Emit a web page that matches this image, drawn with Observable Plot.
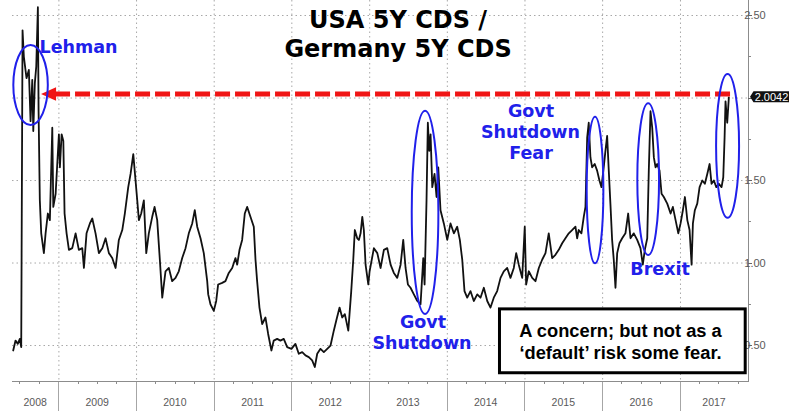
<!DOCTYPE html>
<html>
<head>
<meta charset="utf-8">
<script src="https://cdn.jsdelivr.net/npm/d3@7"></script>
<script src="https://cdn.jsdelivr.net/npm/@observablehq/plot@0.6"></script>
<style>
  html, body { margin: 0; padding: 0; background: #fff; }
  #chart svg { display: block; }
</style>
</head>
<body>
<div id="chart"></div>
<script>
// ---- data: USA 5Y CDS / Germany 5Y CDS ratio (dates as decimal years) ----
const dates = [
  2008.413,2008.443,2008.472,2008.498,2008.516, 2008.533,2008.550,2008.584,2008.614,2008.636, 2008.658,2008.671,2008.691,2008.709,2008.730, 2008.739,2008.755,2008.773,2008.807,2008.829, 2008.858,2008.884,2008.915,2008.928,2008.958,
  2009.000,2009.013,2009.035,2009.057,2009.073, 2009.099,2009.129,2009.172,2009.215,2009.257, 2009.301,2009.322,2009.356,2009.399,2009.430, 2009.472,2009.515,2009.559,2009.601,2009.644, 2009.687,2009.730,2009.772,2009.816,2009.849, 2009.893,2009.923,2009.958,2009.987,
  2010.009,2010.030,2010.060,2010.094,2010.125, 2010.158,2010.202,2010.232,2010.266,2010.300, 2010.331,2010.373,2010.416,2010.459,2010.502, 2010.544,2010.588,2010.631,2010.673,2010.717, 2010.750,2010.781,2010.824,2010.866,2010.910, 2010.923,2010.952,2010.995,
  2011.026,2011.051,2011.103,2011.145,2011.188, 2011.232,2011.274,2011.296,2011.326,2011.360, 2011.394,2011.425,2011.467,2011.510,2011.532, 2011.553,2011.583,2011.618,2011.660,2011.695, 2011.737,2011.767,2011.811,2011.853,2011.896, 2011.940,2011.995,
  2012.046,2012.089,2012.133,2012.175,2012.218, 2012.261,2012.295,2012.326,2012.368,2012.411, 2012.454,2012.497,2012.539,2012.570,2012.613, 2012.647,2012.681,2012.725,2012.741,2012.763, 2012.789,2012.809,2012.840,2012.861,2012.883, 2012.905,2012.925,2012.947,2012.982,2012.999,
  2013.054,2013.098,2013.140,2013.183,2013.226, 2013.269,2013.311,2013.355,2013.398,2013.432, 2013.462,2013.492,2013.526,2013.569,2013.613, 2013.655,2013.690,2013.707,2013.732,2013.749, 2013.767,2013.784,2013.806,2013.835,2013.861, 2013.883,2013.912,2013.955,2013.999,
  2014.041,2014.084,2014.127,2014.161,2014.192, 2014.221,2014.256,2014.298,2014.341,2014.385, 2014.427,2014.470,2014.514,2014.556,2014.598, 2014.642,2014.685,2014.727,2014.771,2014.813, 2014.856,2014.887,2014.920,2014.964,2014.997,
  2015.015,2015.049,2015.093,2015.135,2015.178, 2015.221,2015.264,2015.306,2015.350,2015.392, 2015.435,2015.479,2015.521,2015.564,2015.607, 2015.650,2015.672,2015.692,2015.727,2015.757, 2015.779,2015.801,2015.821,2015.843,2015.865, 2015.898,2015.929,2015.959,2015.985,
  2016.014,2016.036,2016.058,2016.079,2016.100, 2016.122,2016.143,2016.165,2016.187,2016.216, 2016.251,2016.293,2016.328,2016.358,2016.400, 2016.444,2016.486,2016.516,2016.542,2016.573, 2016.593,2016.615,2016.637,2016.658,2016.680, 2016.701,2016.731,2016.757,2016.786,2016.830, 2016.873,2016.902,2016.937,2016.972,
  2017.001,2017.031,2017.057,2017.088,2017.117, 2017.143,2017.160,2017.185,2017.216,2017.246, 2017.281,2017.314,2017.345,2017.375,2017.400, 2017.430,2017.461,2017.494,2017.529,2017.551, 2017.568,2017.580,2017.602,2017.623
];
const values = [
  0.47,0.53,0.51,0.54,0.49, 2.41,2.25,2.12,2.17,1.86, 2.11,1.80,2.09,2.19,2.55, 1.92,1.38,1.18,1.06,1.18, 1.30,1.26,1.82,1.34,1.42,
  1.78,1.58,1.78,1.74,1.30, 1.18,1.08,1.09,1.18,1.08, 1.09,0.97,1.18,1.24,1.27, 1.18,1.06,1.09,1.15,1.06, 1.03,0.97,1.14,1.20,1.30, 1.46,1.54,1.66,1.50,
  1.38,1.26,1.30,1.38,1.06, 1.18,1.28,1.34,1.26,1.02, 0.79,0.95,0.97,0.89,0.91, 0.95,1.03,1.09,1.18,1.24, 1.32,1.22,1.15,1.06,0.89, 0.81,0.75,0.71,
  0.77,0.87,0.88,0.89,0.94, 0.97,1.03,0.99,1.08,1.14, 1.30,1.34,1.28,1.22,1.02, 0.89,0.73,0.63,0.67,0.57, 0.47,0.53,0.54,0.53,0.54, 0.49,0.48,
  0.51,0.45,0.46,0.44,0.43, 0.41,0.37,0.45,0.48,0.46, 0.48,0.50,0.59,0.65,0.73, 0.67,0.69,0.59,0.69,0.83, 1.02,1.20,1.15,1.14,1.18, 1.28,1.20,0.99,0.87,0.95,
  1.09,1.06,0.97,1.08,1.09, 0.99,0.94,0.91,0.99,1.14, 0.97,0.87,0.85,0.81,0.77, 0.75,1.03,0.87,1.38,1.85, 1.68,1.78,1.46,1.54,1.40, 1.58,1.32,1.24,1.14,
  1.24,1.18,1.22,1.14,1.02, 0.83,0.79,0.83,0.77,0.81, 0.79,0.85,0.77,0.73,0.79, 0.83,0.91,0.95,0.97,0.91, 0.97,1.06,0.99,0.91,1.22,
  0.87,0.95,0.91,0.89,0.97, 1.02,1.06,1.18,1.03,1.05, 1.08,1.12,1.15,1.18,1.20, 1.22,1.15,1.20,1.18,1.28, 1.34,1.76,1.85,1.64,1.58, 1.60,1.56,1.50,1.46,
  1.58,1.68,1.77,1.56,1.36, 1.14,1.02,0.85,1.06,1.12, 1.15,1.18,1.30,1.15,1.18, 1.14,1.09,0.99,1.08,1.15, 1.56,1.92,1.82,1.64,1.58, 1.60,1.56,1.42,1.40,1.36, 1.30,1.34,1.26,1.18,
  1.24,1.32,1.40,1.26,1.20, 0.99,1.24,1.32,1.36,1.46, 1.50,1.48,1.54,1.60,1.48, 1.50,1.46,1.48,1.46,1.52, 1.76,1.98,1.85,2.0042
];
const lastValue = 2.0042;

// ---- axis ticks & labels ----
const yearTicks = [2009, 2010, 2011, 2012, 2013, 2014, 2015, 2016, 2017];
const yearLabels = [2008, 2009, 2010, 2011, 2012, 2013, 2014, 2015, 2016, 2017];
const yGrid = [0.5, 1.0, 1.5, 2.0, 2.5];
const yMinor = [0.75, 1.25, 1.75, 2.25];
const yLabels = [0.5, 1.0, 1.5, 2.5];
const xStart = 2008.404, xEnd = 2017.876;
const yDomain = [0.282, 2.591];

// ---- annotations (anchored in data space) ----
const titleLines = ["USA 5Y CDS /", "Germany 5Y CDS"];
const titleAt = {t: 2013.372, v: [2.424, 2.245]};
const blueLabels = [
  {text: "Lehman",   t: 2009.260, v: 2.270},
  {text: "Govt",     t: 2013.694, v: 0.603},
  {text: "Shutdown", t: 2013.680, v: 0.476},
  {text: "Govt",     t: 2015.084, v: 1.884},
  {text: "Shutdown", t: 2015.077, v: 1.755},
  {text: "Fear",     t: 2015.084, v: 1.627},
  {text: "Brexit",   t: 2016.744, v: 0.924}
];
const ellipses = [
  {t0: 2008.421, t1: 2008.864, lo: 1.833, hi: 2.318},
  {t0: 2013.548, t1: 2013.891, lo: 0.688, hi: 1.920},
  {t0: 2015.801, t1: 2016.016, lo: 0.995, hi: 1.884},
  {t0: 2016.452, t1: 2016.731, lo: 1.045, hi: 1.965},
  {t0: 2017.465, t1: 2017.761, lo: 1.271, hi: 2.142}
];
const arrow = {tip: 2008.777, end: 2017.667, v: 2.021};
const boxLines = ["A concern; but not as a", "\u2018default\u2019 risk some fear."];
const box = {t0: 2014.678, t1: 2017.840, top: 0.719, bottom: 0.332, textT: 2016.236, textV: [0.547, 0.413]};

const BLUE = "#2020ea", RED = "#f01515";

function toDate(t) {
  const yr = Math.floor(t);
  const a = Date.UTC(yr, 0, 1), b = Date.UTC(yr + 1, 0, 1);
  return new Date(a + (t - yr) * (b - a));
}
const xDomain = [toDate(xStart), toDate(xEnd)];
const series = dates.map((t, i) => ({date: toDate(t), value: values[i]}));

function axes(index, scales, vals, dim) {
  const L = dim.marginLeft, R = dim.width - dim.marginRight, B = dim.height - dim.marginBottom, H = dim.height;
  const g = d3.create("svg:g");
  const ax = "#8c8c8c";
  for (const yr of yearTicks) {
    const px = Math.round(scales.x(toDate(yr))) + 0.5;
    g.append("line").attr("x1", px).attr("x2", px).attr("y1", B).attr("y2", H).attr("stroke", "#a6a6a6");
  }
  for (const q of d3.utcMonth.every(3).range(xDomain[0], xDomain[1])) {
    if (q.getUTCMonth() === 0) continue;
    const px = Math.round(scales.x(q)) + 0.5;
    g.append("line").attr("x1", px).attr("x2", px).attr("y1", B).attr("y2", B + 3).attr("stroke", ax);
  }
  g.append("line").attr("x1", L).attr("x2", R + 1).attr("y1", B + 0.5).attr("y2", B + 0.5).attr("stroke", ax);
  g.append("line").attr("x1", R + 0.5).attr("x2", R + 0.5).attr("y1", 0).attr("y2", B).attr("stroke", ax);
  const lab = g.append("g").attr("font-family", "'Liberation Sans', Arial, sans-serif").attr("font-size", 10.5).attr("fill", "#5a5a5a");
  for (const yr of yearLabels) {
    const a = Math.max(+toDate(yr), +xDomain[0]), b = Math.min(+toDate(yr + 1), +xDomain[1]);
    const cx = (scales.x(new Date(a)) + scales.x(new Date(b))) / 2;
    lab.append("text").attr("x", cx).attr("y", B + 24.5).attr("text-anchor", "middle").text(yr);
  }
  for (const v of yGrid) {
    const py = Math.round(scales.y(v)) + 0.5;
    g.append("line").attr("x1", R).attr("x2", R + 4).attr("y1", py).attr("y2", py).attr("stroke", "#666");
  }
  for (const v of yMinor) {
    const py = Math.round(scales.y(v)) + 0.5;
    g.append("line").attr("x1", R).attr("x2", R + 3).attr("y1", py).attr("y2", py).attr("stroke", "#888");
  }
  const fmt = d3.format(".2f");
  const ylab = g.append("g").attr("font-family", "'Liberation Sans', Arial, sans-serif").attr("font-size", 11).attr("fill", "#5a5a5a");
  for (const v of yLabels) {
    ylab.append("text").attr("x", R + 7).attr("y", scales.y(v) + 4).text(fmt(v));
  }
  return g.node();
}

function annotate(index, scales, vals, dim) {
  const X = t => scales.x(toDate(t)), Y = v => scales.y(v);
  const R = dim.width - dim.marginRight;
  const g = d3.create("svg:g");

  // title
  const tt = g.append("g").attr("font-family", "'DejaVu Sans', Verdana, sans-serif").attr("font-weight", "bold")
    .attr("font-size", 24).attr("fill", "#000").attr("text-anchor", "middle");
  titleLines.forEach((s, i) => tt.append("text").attr("x", X(titleAt.t)).attr("y", Y(titleAt.v[i])).text(s));

  // red dashed arrow
  const ya = Y(arrow.v), tipX = X(arrow.tip);
  g.append("line").attr("x1", tipX + 14).attr("x2", X(arrow.end)).attr("y1", ya).attr("y2", ya)
    .attr("stroke", RED).attr("stroke-width", 5).attr("stroke-dasharray", "15,5");
  g.append("path").attr("d", `M${tipX},${ya}L${tipX + 15},${ya - 6.8}L${tipX + 15},${ya + 6.8}Z`).attr("fill", RED);

  // ellipses
  for (const e of ellipses) {
    g.append("ellipse")
      .attr("cx", (X(e.t0) + X(e.t1)) / 2).attr("cy", (Y(e.lo) + Y(e.hi)) / 2)
      .attr("rx", Math.abs(X(e.t1) - X(e.t0)) / 2).attr("ry", Math.abs(Y(e.lo) - Y(e.hi)) / 2)
      .attr("fill", "none").attr("stroke", BLUE).attr("stroke-width", 2);
  }

  // blue labels
  const bl = g.append("g").attr("font-family", "'DejaVu Sans', Verdana, sans-serif").attr("font-weight", "bold")
    .attr("font-size", 17.5).attr("fill", BLUE).attr("text-anchor", "middle");
  for (const l of blueLabels) bl.append("text").attr("x", X(l.t)).attr("y", Y(l.v)).text(l.text);

  // text box
  g.append("rect").attr("x", X(box.t0)).attr("y", Y(box.top))
    .attr("width", X(box.t1) - X(box.t0)).attr("height", Y(box.bottom) - Y(box.top))
    .attr("fill", "#fff").attr("stroke", "#000").attr("stroke-width", 3);
  const bt = g.append("g").attr("font-family", "'Liberation Sans', Arial, sans-serif").attr("font-weight", "bold")
    .attr("font-size", 18.3).attr("fill", "#000").attr("text-anchor", "middle");
  boxLines.forEach((s, i) => bt.append("text").attr("x", X(box.textT)).attr("y", Y(box.textV[i])).text(s));

  // last value tag
  const yt = Y(lastValue);
  g.append("path").attr("d", `M${R + 2},${yt}L${R + 5.5},${yt - 5.5}L${R + 41},${yt - 5.5}L${R + 41},${yt + 5.5}L${R + 5.5},${yt + 5.5}Z`)
    .attr("fill", "#111");
  g.append("text").attr("x", R + 23.5).attr("y", yt + 4).attr("text-anchor", "middle")
    .attr("font-family", "'Liberation Sans', Arial, sans-serif").attr("font-size", 11).attr("fill", "#fff")
    .text(d3.format(".4f")(lastValue));
  return g.node();
}

const chart = Plot.plot({
  width: 794,
  height: 411,
  marginLeft: 12,
  marginRight: 46,
  marginTop: 0,
  marginBottom: 30,
  x: {type: "utc", domain: xDomain, axis: null},
  y: {domain: yDomain, axis: null},
  style: {background: "#fff", overflow: "visible"},
  marks: [
    Plot.ruleY(yGrid, {stroke: "#a8a8a8", strokeDasharray: "1.5,3"}),
    Plot.ruleX(yearTicks.map(toDate), {stroke: "#a8a8a8", strokeDasharray: "1.5,3"}),
    axes,
    Plot.line(series, {x: "date", y: "value", stroke: "#111", strokeWidth: 1.8, strokeLinejoin: "round"}),
    annotate
  ]
});
document.getElementById("chart").appendChild(chart);
</script>
</body>
</html>
